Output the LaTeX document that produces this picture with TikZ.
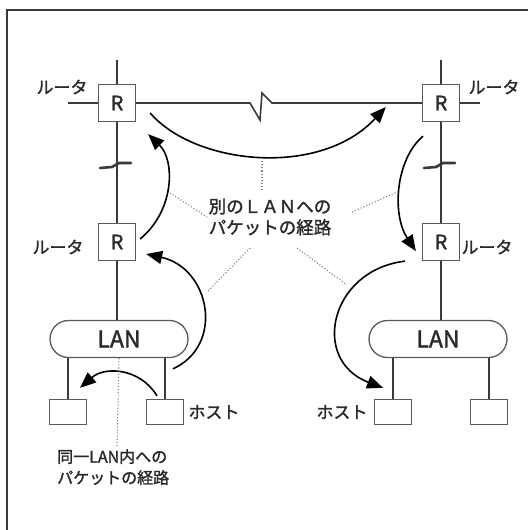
\documentclass[tikz,border=0pt]{standalone}
\usepackage{fontspec}
\setmainfont{Noto Sans CJK JP}[FakeBold=1.6]
\usetikzlibrary{arrows.meta,shapes.misc}
\definecolor{ln}{HTML}{3A3A3A}
\definecolor{bx}{HTML}{5A5A5A}
\definecolor{tx}{HTML}{2A2A2A}
\begin{document}
\begin{tikzpicture}[x=1pt,y=-1pt,
  wire/.style={draw=ln,line width=1.6pt},
  rbox/.style={draw=bx,line width=1.3pt,fill=white,minimum width=37pt,minimum height=37pt,inner sep=0pt,font=\fontsize{20}{20}\selectfont,text=tx},
  lanbox/.style={rounded rectangle,draw=bx,line width=1.3pt,fill=white,minimum width=138pt,minimum height=37pt,inner sep=0pt,font=\fontsize{23}{23}\selectfont,text=tx},
  hostbox/.style={draw=bx,line width=1.3pt,fill=white,minimum width=37pt,minimum height=25pt,inner sep=0pt},
  lbl/.style={inner sep=0pt,text=tx,font=\fontsize{17}{17}\selectfont},
  flow/.style={draw=black,line width=1.6pt,-{Triangle[length=16pt,width=13pt]}},
  call/.style={draw=gray,line width=1.1pt,dotted}]
\useasboundingbox (0,0) rectangle (528,530);
% frame
\draw[line width=1.5pt,draw=ln] (7,530) -- (7,10) -- (528,10);
% nodes
\node[rbox] (r1) at (117,103) {R};
\node[rbox] (r2) at (117,242) {R};
\node[rbox] (r3) at (441,103) {R};
\node[rbox] (r4) at (441,242) {R};
\node[lanbox] (lan1) at (119,339) {LAN};
\node[lanbox] (lan2) at (438,339) {LAN};
\node[hostbox] (h1) at (68,412) {};
\node[hostbox] (h2) at (165,412) {};
\node[hostbox] (h3) at (393,412) {};
\node[hostbox] (h4) at (489,412) {};
% labels
\node[lbl] (l1) at (62,87) {ルータ};
\node[lbl] (l2) at (58,247) {ルータ};
\node[lbl] (l3) at (494,87) {ルータ};
\node[lbl] (l4) at (487,247) {ルータ};
\node[lbl] (l5) at (214,412) {ホスト};
\node[lbl] (l6) at (342,412) {ホスト};
\node[lbl,align=center,font=\fontsize{17.5}{21}\selectfont] (t1) at (270,217) {別のＬＡＮへの\\パケットの経路};
\node[lbl,align=left,anchor=north west,font=\fontsize{16}{21}\selectfont] (t2) at (57,449) {同一LAN内への\\パケットの経路};
% coordinates
\coordinate (ltop) at (117,60);
\coordinate (rtop) at (441,60);
\coordinate (lw) at (68,103);
\coordinate (re) at (480,103);
% wires
\draw[wire] (ltop) -- (r1.north);
\draw[wire] (r1.south) -- (r2.north);
\draw[wire] (r2.south) -- (r2.south |- lan1.north);
\draw[wire] (rtop) -- (r3.north);
\draw[wire] (r3.south) -- (r4.north);
\draw[wire] (r4.south) -- (r4.south |- lan2.north);
\draw[wire] (lw) -- (r1.west);
\draw[wire] (r1.east) -- (250,103) -- (260,120) -- (262,93) -- (272,103) -- (r3.west);
\draw[wire] (r3.east) -- (re);
\draw[wire] (h1.north) -- (h1.north |- lan1.south);
\draw[wire] (h2.north) -- (h2.north |- lan1.south);
\draw[wire] (h3.north) -- (h3.north |- lan2.south);
\draw[wire] (h4.north) -- (h4.north |- lan2.south);
% break marks
\draw[line width=2.6pt,draw=ln,line cap=round] (100,168) -- (112,167) -- (119,163) -- (131,163);
\draw[line width=2.6pt,draw=ln,line cap=round] (424,168) -- (436,167) -- (443,163) -- (455,163);
% flows
\draw[flow] ([shift={(8,-30)}]h2.north) .. controls (225,345) and (210,268) .. ([shift={(10,12)}]r2.east);
\draw[flow] ([shift={(4,-3)}]r2.east) .. controls (175,210) and (175,160) .. ([shift={(12,12)}]r1.south east);
\draw[flow] ([shift={(14,10)}]r1.east) .. controls (195,165) and (320,178) .. ([shift={(-36,4)}]r3.west);
\draw[flow] ([shift={(-18,14)}]r3.south) .. controls (395,160) and (392,215) .. ([shift={(-6,-10)}]r4.south west);
\draw[flow] ([shift={(-36,0)}]r4.south) .. controls (330,270) and (310,360) .. ([shift={(-10,-11)}]h3.north);
\draw[flow] ([shift={(-8,-3)}]h2.north) .. controls (140,368) and (105,366) .. ([shift={(12,-11)}]h1.north);
% callouts
\draw[call] (262,158) -- (262,192);
\draw[call] (170,193) -- (207,217);
\draw[call] (250,248) -- (207,292);
\draw[call] (297,248) -- (347,285);
\draw[call] (352,212) -- (397,192);
\draw[call] (lan1.south) -- (117,448);
\end{tikzpicture}
\end{document}
